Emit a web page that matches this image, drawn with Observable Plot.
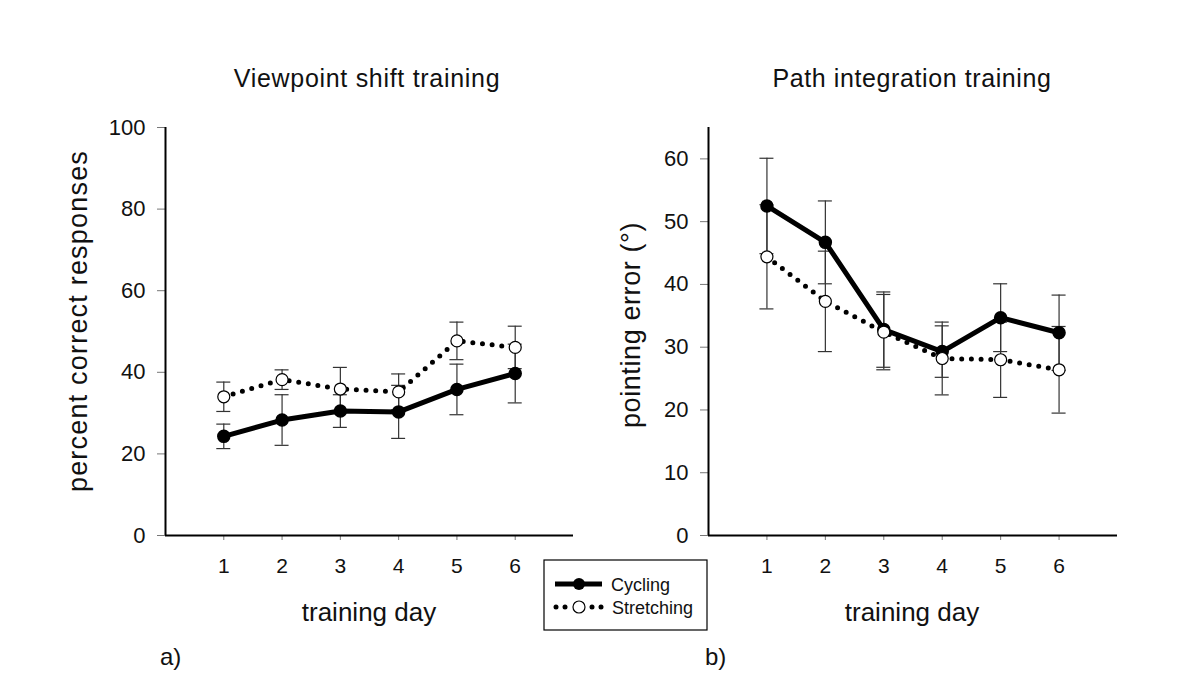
<!DOCTYPE html>
<html>
<head>
<meta charset="utf-8">
<script src="https://cdn.jsdelivr.net/npm/d3@7"></script>
<script src="https://cdn.jsdelivr.net/npm/@observablehq/plot@0.6"></script>
<style>
  html, body { margin: 0; padding: 0; background: #fff; }
  #wrap { position: relative; width: 1200px; height: 673px; background: #fff; font-family: "Liberation Sans", Arial, sans-serif; }
  #left, #right { position: absolute; top: 0; }
  #left { left: 0; }
  #right { left: 600px; }
  #overlay { position: absolute; left: 0; top: 0; pointer-events: none; }
  #overlay text { font-family: "Liberation Sans", Arial, sans-serif; fill: #111; }
</style>
</head>
<body>
<div id="wrap">
  <div id="left"></div>
  <div id="right"></div>
  <svg id="overlay" width="1200" height="673"></svg>
</div>
<script>
// ---- data ----
const days = [1, 2, 3, 4, 5, 6];
const seriesNames = ["Cycling", "Stretching"];

// a) Viewpoint shift training: percent correct responses
const vpCyclingMean  = [24.3, 28.3, 30.5, 30.3, 35.8, 39.7];
const vpCyclingErr   = [3.0, 6.2, 4.0, 6.5, 6.2, 7.2];
const vpStretchMean  = [34.0, 38.2, 35.9, 35.2, 47.7, 46.1];
const vpStretchErr   = [3.6, 2.4, 5.3, 4.4, 4.6, 5.2];

// b) Path integration training: pointing error (°)
const piCyclingMean  = [52.5, 46.7, 32.8, 29.3, 34.7, 32.3];
const piCyclingErr   = [7.6, 6.6, 6.0, 4.1, 5.4, 6.0];
const piStretchMean  = [44.4, 37.3, 32.4, 28.2, 28.0, 26.4];
const piStretchErr   = [8.3, 8.0, 6.0, 5.8, 6.0, 6.9];

const vpYTicks = [0, 20, 40, 60, 80, 100];
const piYTicks = [0, 10, 20, 30, 40, 50, 60];

const titles = ["Viewpoint shift training", "Path integration training"];
const yLabels = ["percent correct responses", "pointing error (°)"];
const xLabel = "training day";
const panelTags = ["a)", "b)"];

// ---- build ----
const rows = (means, errs) => days.map((d, i) => ({day: d, mean: means[i], err: errs[i]}));
const capHalf = 0.12;

function panel(cyc, str, yMax, yTicks, marginLeft, marginRight) {
  const errMarks = (data) => [
    Plot.ruleX(data, {x: "day", y1: d => d.mean - d.err, y2: d => d.mean + d.err, stroke: "#333", strokeWidth: 1.2}),
    Plot.ruleY(data, {y: d => d.mean + d.err, x1: d => d.day - capHalf, x2: d => d.day + capHalf, stroke: "#333", strokeWidth: 1.2}),
    Plot.ruleY(data, {y: d => d.mean - d.err, x1: d => d.day - capHalf, x2: d => d.day + capHalf, stroke: "#333", strokeWidth: 1.2})
  ];
  return Plot.plot({
    width: 600,
    height: 673,
    marginLeft, marginRight,
    marginTop: 127,
    marginBottom: 138,
    style: {fontFamily: "'Liberation Sans', Arial, sans-serif", fontSize: "22px", background: "transparent", color: "#111"},
    x: {domain: [0, 7]},
    y: {domain: [0, yMax]},
    marks: [
      Plot.axisY({ticks: yTicks, tickFormat: "d", tickSize: 8, tickPadding: 12, stroke: "#777", fill: "#111", fontSize: 22, label: null}),
      Plot.axisX({ticks: days, tickFormat: "d", tickSize: 5, tickPadding: 18, stroke: "#777", fill: "#111", fontSize: 21, label: null}),
      ...errMarks(cyc),
      ...errMarks(str),
      Plot.line(cyc, {x: "day", y: "mean", stroke: "#000", strokeWidth: 5, strokeLinejoin: "round"}),
      Plot.line(str, {x: "day", y: "mean", stroke: "#000", strokeWidth: 5, strokeDasharray: "0,9.7", strokeLinecap: "round"}),
      Plot.dot(cyc, {x: "day", y: "mean", r: 6, fill: "#000", stroke: "#000"}),
      Plot.dot(str, {x: "day", y: "mean", r: 6, fill: "#fff", stroke: "#000", strokeWidth: 1.2}),
      Plot.ruleX([0], {stroke: "#000", strokeWidth: 2}),
      Plot.ruleY([0], {stroke: "#000", strokeWidth: 2})
    ]
  });
}

document.getElementById("left").appendChild(
  panel(rows(vpCyclingMean, vpCyclingErr), rows(vpStretchMean, vpStretchErr), 100, vpYTicks, 165, 27)
);
document.getElementById("right").appendChild(
  panel(rows(piCyclingMean, piCyclingErr), rows(piStretchMean, piStretchErr), 65, piYTicks, 108, 83)
);

// ---- text overlay & legend ----
const ov = d3.select("#overlay");
const addText = (txt, x, y, size, opts = {}) => {
  const t = ov.append("text").attr("x", x).attr("y", y).attr("font-size", size)
    .attr("text-anchor", opts.anchor || "middle").text(txt);
  if (opts.ls) t.attr("letter-spacing", opts.ls);
  if (opts.rotate) t.attr("transform", `rotate(-90 ${x} ${y})`);
  return t;
};
addText(titles[0], 367, 87, 25, {ls: 0.7});
addText(titles[1], 912, 87, 25, {ls: 0.6});
addText(xLabel, 369, 621, 26);
addText(xLabel, 912, 621, 26);
addText(yLabels[0], 87, 321, 27, {rotate: true, ls: 1.2});
addText(yLabels[1], 640, 325, 27, {rotate: true, ls: 0.6});
addText(panelTags[0], 160, 665, 24, {anchor: "start"});
addText(panelTags[1], 705, 665, 24, {anchor: "start"});

// legend
ov.append("rect").attr("x", 544).attr("y", 560).attr("width", 163).attr("height", 70)
  .attr("fill", "#fff").attr("stroke", "#000").attr("stroke-width", 1.2);
ov.append("line").attr("x1", 555).attr("x2", 602).attr("y1", 584).attr("y2", 584)
  .attr("stroke", "#000").attr("stroke-width", 5);
ov.append("circle").attr("cx", 579).attr("cy", 584).attr("r", 6).attr("fill", "#000");
[556, 565, 592, 601].forEach(cx => ov.append("circle").attr("cx", cx).attr("cy", 607).attr("r", 2.5).attr("fill", "#000"));
ov.append("circle").attr("cx", 579).attr("cy", 607).attr("r", 6).attr("fill", "#fff").attr("stroke", "#000").attr("stroke-width", 1.2);
addText(seriesNames[0], 611, 591, 18, {anchor: "start"});
addText(seriesNames[1], 612, 614, 18, {anchor: "start"});
</script>
</body>
</html>
